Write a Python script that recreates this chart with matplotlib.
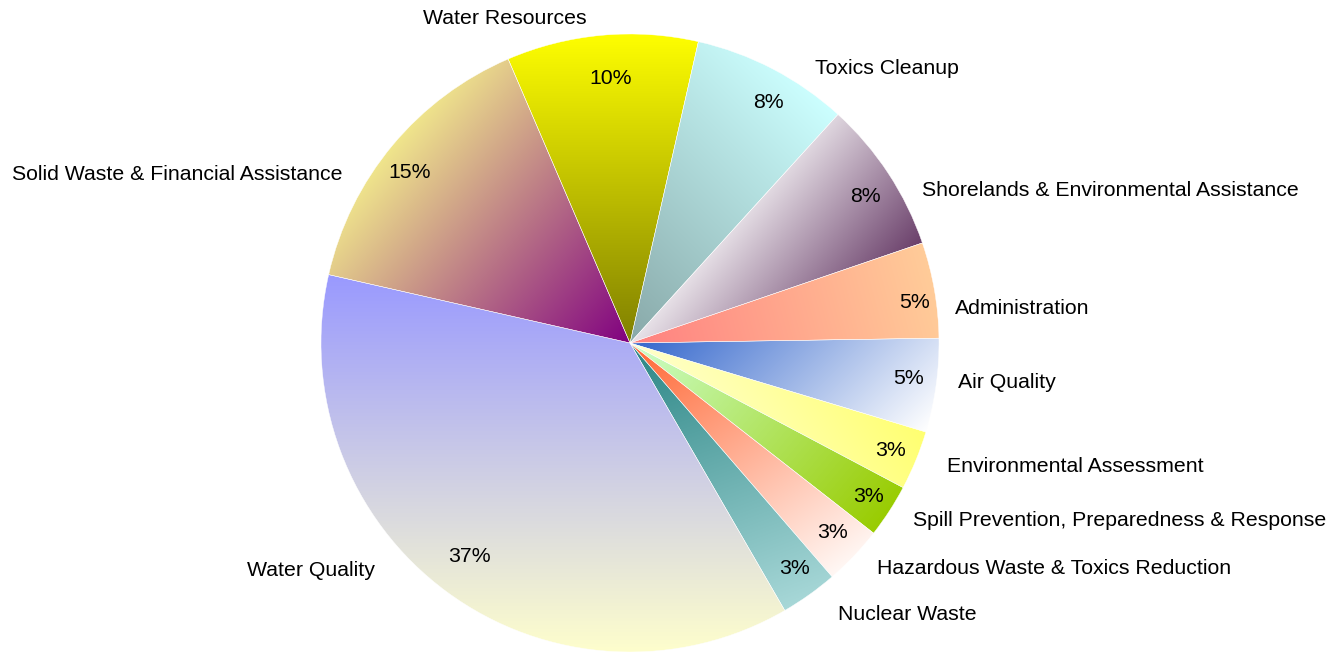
import numpy as np
import matplotlib
matplotlib.use("Agg")
import matplotlib.pyplot as plt
from matplotlib.colors import to_rgb

# Budget shares by program (percent), clockwise from the 3 o'clock position
programs = [
    "Air Quality",
    "Environmental Assessment",
    "Spill Prevention, Preparedness & Response",
    "Hazardous Waste & Toxics Reduction",
    "Nuclear Waste",
    "Water Quality",
    "Solid Waste & Financial Assistance",
    "Water Resources",
    "Toxics Cleanup",
    "Shorelands & Environmental Assistance",
    "Administration",
]
shares = [4.9, 3.1, 2.8, 3.1, 3.0, 36.9, 15.0, 10.0, 8.2, 8.0, 5.0]

# Gradient fill per wedge: (start colour, end colour, direction in degrees)
gradients = [
    ("#3366cc", "#ffffff", -45),
    ("#ffffcc", "#ffff70", 30),
    ("#ccffcc", "#99cc00", -40),
    ("#ff6633", "#fff8f5", -55),
    ("#2a8585", "#a8d8d8", -70),
    ("#9999ff", "#ffffcc", -90),
    ("#800080", "#f0e68c", 140),
    ("#ffff00", "#808000", -90),
    ("#88a8a8", "#ccffff", 45),
    ("#e8e2e8", "#6a3f6a", -40),
    ("#ff8080", "#ffcc99", 15),
]

W, H = 1342, 652
fig = plt.figure(figsize=(W / 100, H / 100), dpi=100)
ax = fig.add_axes([0, 0, 1, 1])

cx, cy, R = 630, H - 343, 309
wedges, texts, autotexts = ax.pie(
    shares,
    labels=programs,
    autopct="%.0f%%",
    startangle=0.9,
    counterclock=False,
    radius=R,
    center=(cx, cy),
    pctdistance=0.9,
    labeldistance=1.1,
    wedgeprops=dict(facecolor="none", edgecolor="white", linewidth=0.3),
    textprops=dict(family="Liberation Sans", fontsize=15.3, color="black"),
)
ax.set_xlim(0, W)
ax.set_ylim(0, H)
ax.set_aspect("equal")
ax.axis("off")

# Gradient images clipped to each wedge
gx, gy = np.meshgrid(np.arange(W) + 0.5, np.arange(H) + 0.5)
for w, (c0, c1, ang) in zip(wedges, gradients):
    d = np.array([np.cos(np.radians(ang)), np.sin(np.radians(ang))])
    verts = w.get_path().vertices
    proj = verts @ d
    t = (gx * d[0] + gy * d[1] - proj.min()) / (proj.max() - proj.min())
    t = np.clip(t, 0, 1)[..., None]
    img = (1 - t) * np.array(to_rgb(c0)) + t * np.array(to_rgb(c1))
    im = ax.imshow(img, extent=(0, W, 0, H), origin="lower",
                   interpolation="bilinear", zorder=0.5)
    im.set_clip_path(w)
    w.set_zorder(1)

# Placement of the category labels (x, y in pixels from top-left, alignment)
label_layout = [
    (958, 382, "left"),
    (947, 466, "left"),
    (913, 521, "left"),
    (877, 568, "left"),
    (838, 615, "left"),
    (375, 570, "right"),
    (342, 175, "right"),
    (505, 18, "center"),
    (815, 69, "left"),
    (922, 190, "left"),
    (955, 308, "left"),
]
for t, (x, y, ha) in zip(texts, label_layout):
    t.set_position((x, H - y))
    t.set_ha(ha)
    t.set_va("center")

# Placement of the percentage labels (centres in pixels from top-left)
pct_layout = [
    (909, 378), (891, 450), (868, 497), (832, 533), (794, 569),
    (469, 557), (410, 173), (611, 78), (768, 103), (865, 197), (915, 303),
]
for t, (x, y) in zip(autotexts, pct_layout):
    t.set_position((x, H - y))
    t.set_ha("center")
    t.set_va("center")
    t.set_zorder(3)

fig.savefig("out.png", dpi=100, facecolor="white")
